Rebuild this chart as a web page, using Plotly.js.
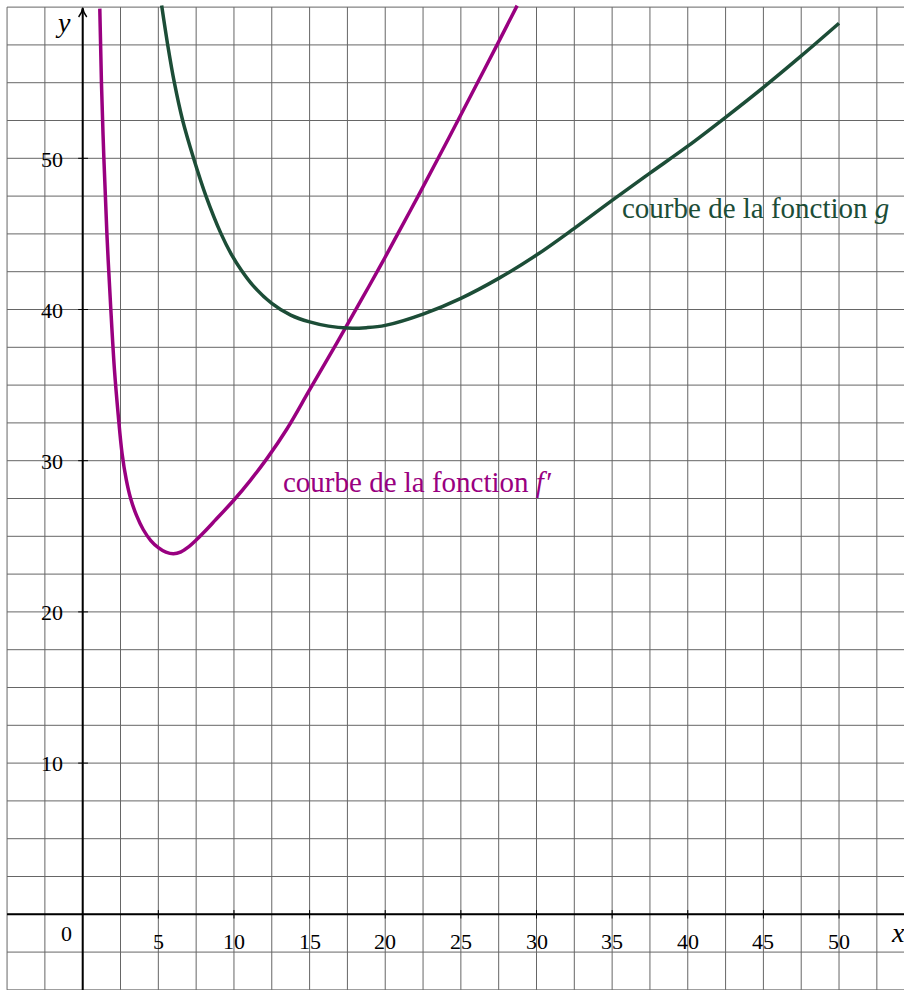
<!DOCTYPE html>
<html>
<head>
<meta charset="utf-8">
<script src="https://cdn.plot.ly/plotly-3.0.1.min.js"></script>
<style>html,body{margin:0;padding:0;background:#fff;}#chart{width:904px;height:990px;}</style>
</head>
<body>
<div id="chart"></div>
<script>
// ---- data ----
const fPrimeX = [1.13, 1.24, 1.40, 1.60, 1.86, 2.10, 2.35, 2.60, 2.88, 3.17, 3.55, 4.0, 4.5, 5.0, 5.5, 6.0, 6.5, 7.0, 7.5, 8.0, 8.75, 10.0, 11.1, 12.2, 13.5, 14.95, 16.2, 17.34, 18.5, 19.65, 20.8, 22.2, 23.55, 24.83, 26.15, 27.47, 28.72];
const fPrimeY = [59.9, 55, 50, 45, 40, 36, 33, 30.5, 28.75, 27.5, 26.4, 25.45, 24.72, 24.25, 23.95, 23.84, 23.97, 24.3, 24.75, 25.25, 26.05, 27.4, 28.72, 30.17, 32.1, 34.6, 36.75, 38.73, 40.78, 42.83, 44.95, 47.55, 50.1, 52.55, 55.1, 57.65, 60.1];
const gX = [5.22, 5.62, 6.06, 6.61, 7.33, 8.15, 9.15, 9.8, 10.5, 11.25, 12.5, 13.75, 15, 16.25, 17.5, 18.75, 20, 22.5, 25, 27.5, 30, 32.5, 35, 37.5, 40, 42.5, 45, 47.5, 50];
const gY = [60.1, 57.5, 55, 52.5, 50, 47.5, 45, 43.7, 42.58, 41.6, 40.41, 39.63, 39.18, 38.9, 38.77, 38.8, 38.95, 39.7, 40.74, 42.06, 43.6, 45.37, 47.22, 49.02, 50.8, 52.71, 54.69, 56.77, 58.93];
const xTickVals = [5, 10, 15, 20, 25, 30, 35, 40, 45, 50];
const xTickText = ['5', '10', '15', '20', '25', '30', '35', '40', '45', '50'];
const yTickVals = [10, 20, 30, 40, 50];
const yTickText = ['10', '20', '30', '40', '50'];
const labelFPrime = 'courbe de la fonction <i>f</i>\u200A\u2032';
const labelG = 'courbe de la fonction <i>g</i>';

// ---- styling ----
const MAG = '#990080';
const GRN = '#1c4d37';
const GRID = '#666666';
const SERIF = 'Liberation Serif, DejaVu Serif, serif';

const shapes = [];
// grid (step 2.5)
for (let k = -2; k <= 22; k++) {
  const v = k * 2.5;
  shapes.push({type: 'line', xref: 'x', yref: 'y', x0: v, x1: v, y0: -5, y1: 60, line: {color: GRID, width: 1}, layer: 'below'});
}
for (let k = -2; k <= 24; k++) {
  const v = k * 2.5;
  shapes.push({type: 'line', xref: 'x', yref: 'y', x0: -5, x1: 56, y0: v, y1: v, line: {color: GRID, width: 1}, layer: 'below'});
}
// axes
shapes.push({type: 'line', xref: 'x', yref: 'y', x0: -5, x1: 56, y0: 0, y1: 0, line: {color: '#000', width: 2}});
shapes.push({type: 'line', xref: 'x', yref: 'y', x0: 0, x1: 0, y0: -6, y1: 59.9, line: {color: '#000', width: 2}});
// arrow head on y axis
shapes.push({type: 'path', xref: 'x', yref: 'y', path: 'M -0.27,59.35 Q -0.05,59.6 0,59.95 Q 0.05,59.6 0.27,59.35', line: {color: '#000', width: 1.5}});
// tick marks
xTickVals.forEach(v => shapes.push({type: 'line', xref: 'x', yref: 'y', x0: v, x1: v, y0: -0.28, y1: 0.28, line: {color: '#000', width: 1}}));
yTickVals.forEach(v => shapes.push({type: 'line', xref: 'x', yref: 'y', x0: -0.3, x1: 0.35, y0: v, y1: v, line: {color: '#000', width: 1}}));

const annotations = [];
xTickVals.forEach((v, i) => annotations.push({x: v, y: -1.8, xref: 'x', yref: 'y', text: xTickText[i], showarrow: false, xanchor: 'center', yanchor: 'middle', font: {family: SERIF, size: 22, color: '#000'}}));
yTickVals.forEach((v, i) => annotations.push({x: -1.2, y: v - 0.05, xref: 'x', yref: 'y', text: yTickText[i], showarrow: false, xanchor: 'right', yanchor: 'middle', font: {family: SERIF, size: 22, color: '#000'}}));
annotations.push({x: -1.05, y: -1.26, xref: 'x', yref: 'y', text: '0', showarrow: false, xanchor: 'center', yanchor: 'middle', font: {family: SERIF, size: 22, color: '#000'}});
annotations.push({x: 53.9, y: -1.2, xref: 'x', yref: 'y', text: '<i>x</i>', showarrow: false, xanchor: 'center', yanchor: 'middle', font: {family: SERIF, size: 28, color: '#000'}});
annotations.push({x: -1.3, y: 59.0, xref: 'x', yref: 'y', text: '<i>y</i>', showarrow: false, xanchor: 'center', yanchor: 'middle', font: {family: SERIF, size: 28, color: '#000'}});
annotations.push({x: 13.1, y: 28.6, xref: 'x', yref: 'y', text: labelFPrime, showarrow: false, xanchor: 'left', yanchor: 'middle', font: {family: SERIF, size: 29, color: MAG}});
annotations.push({x: 35.55, y: 46.7, xref: 'x', yref: 'y', text: labelG, showarrow: false, xanchor: 'left', yanchor: 'middle', font: {family: SERIF, size: 29, color: GRN}});

const traces = [
  {x: fPrimeX, y: fPrimeY, type: 'scatter', mode: 'lines', name: "f'", line: {color: MAG, width: 3.5, shape: 'spline', smoothing: 1}, hoverinfo: 'skip'},
  {x: gX, y: gY, type: 'scatter', mode: 'lines', name: 'g', line: {color: GRN, width: 3.5, shape: 'spline', smoothing: 1}, hoverinfo: 'skip'}
];

const layout = {
  width: 904, height: 990,
  margin: {l: 0, r: 0, t: 0, b: 0, pad: 0},
  paper_bgcolor: '#fff', plot_bgcolor: '#fff',
  showlegend: false,
  xaxis: {range: [-5.467, 54.295], showgrid: false, zeroline: false, showticklabels: false, ticks: '', showline: false, fixedrange: true},
  yaxis: {range: [-5.007, 60.47], showgrid: false, zeroline: false, showticklabels: false, ticks: '', showline: false, fixedrange: true},
  shapes: shapes,
  annotations: annotations
};

Plotly.newPlot('chart', traces, layout, {staticPlot: true, displayModeBar: false});
</script>
</body>
</html>
